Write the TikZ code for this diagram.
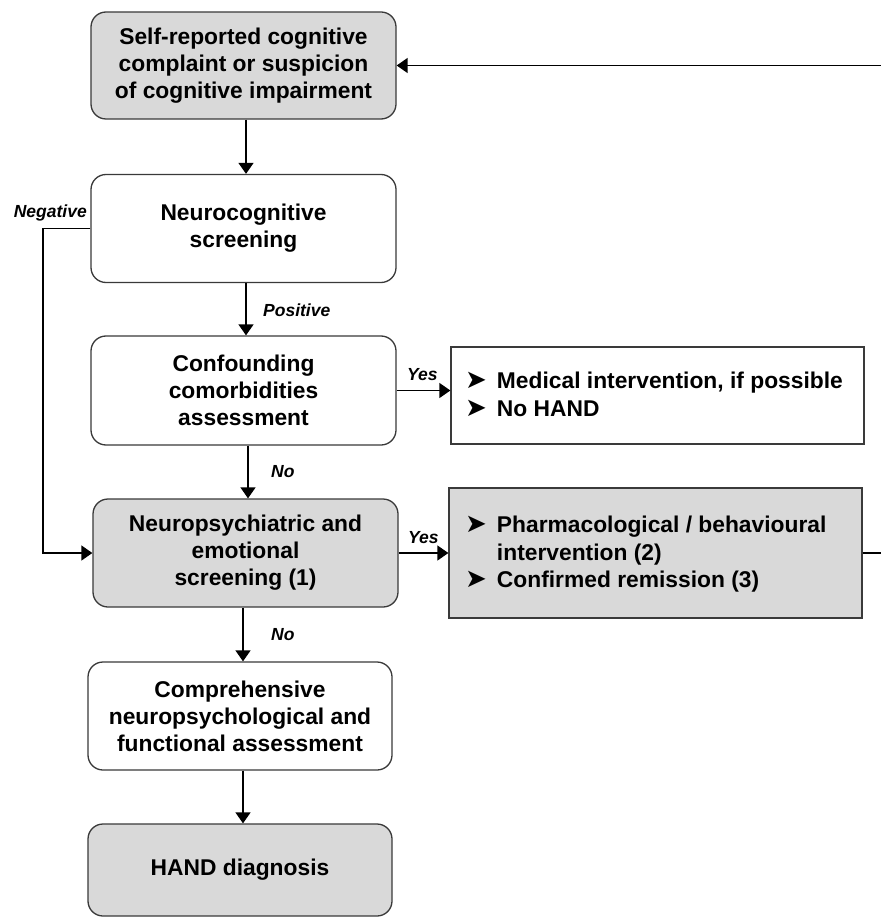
\documentclass[tikz,border=0pt]{standalone}
\usepackage{fontspec}
\setmainfont{Liberation Sans}
\newfontfamily\symfont{DejaVu Sans}
\usetikzlibrary{arrows.meta}
\definecolor{boxgray}{HTML}{D9D9D9}
\definecolor{edgegray}{HTML}{3A3A3A}
\newcommand{\bul}{{\symfont\fontsize{26}{26}\selectfont ➤}}
\tikzset{
  flowbox/.style={draw=edgegray, line width=1.3pt, rounded corners=15pt, align=center,
    inner sep=0pt, font=\bfseries\fontsize{22.8}{27}\selectfont},
  graybox/.style={flowbox, fill=boxgray},
  whitebox/.style={flowbox, fill=white},
  sqbox/.style={draw=edgegray, line width=1.3pt, inner sep=0pt},
  conn/.style={line width=1.4pt, draw=black, -{Triangle[length=11pt,width=15pt]}},
  lbl/.style={font=\bfseries\itshape\fontsize{17.5}{20}\selectfont, inner sep=0pt},
  listtext/.style={font=\bfseries\fontsize{22.8}{27.5}\selectfont, inner sep=0pt, anchor=west}
}
\begin{document}
\begin{tikzpicture}[x=1pt,y=-1pt]
\useasboundingbox[fill=white] (0,0) rectangle (880,917);

% main column
\node[graybox, minimum width=305pt, minimum height=107pt] (n1) at (243.5,65.5)
  {Self-reported cognitive\\complaint or suspicion\\of cognitive impairment};
\node[whitebox, minimum width=305pt, minimum height=108pt] (n2) at (243.5,228.5)
  {Neurocognitive\\screening};
\node[whitebox, minimum width=305pt, minimum height=109pt] (n3) at (243.5,390.5)
  {Confounding\\comorbidities\\assessment};
\node[graybox, minimum width=305pt, minimum height=108pt] (n4) at (245.5,553)
  {Neuropsychiatric and\\emotional\\screening (1)};
\node[whitebox, minimum width=304pt, minimum height=108pt] (n5) at (240,716)
  {Comprehensive\\neuropsychological and\\functional assessment};
\node[graybox, minimum width=304pt, minimum height=92pt] (n6) at (240,870)
  {HAND diagnosis};

% right boxes
\node[sqbox, fill=white, minimum width=413pt, minimum height=97pt] (ra) at (657.5,395.5) {};
\node[sqbox, fill=boxgray, minimum width=413pt, minimum height=130pt] (rb) at (655.5,553) {};

\node[listtext] (ratext) at (465,397) {%
  \begin{tabular}{@{}l@{\hspace{10pt}}l@{}}
  \bul & Medical intervention, if possible\\
  \bul & No HAND
  \end{tabular}};
\node[listtext] (rbtext) at (465,554.5) {%
  \begin{tabular}{@{}l@{\hspace{10pt}}l@{}}
  \bul & Pharmacological / behavioural\\
       & intervention (2)\\
  \bul & Confirmed remission (3)
  \end{tabular}};

% connectors
\draw[conn] (n1.south -| 246,0) -- (n2.north -| 246,0);
\draw[conn] (n2.south -| 246,0) -- (n3.north -| 246,0);
\draw[conn] (n3.south -| 248,0) -- (n4.north -| 248,0);
\draw[conn] (n4.south -| 243,0) -- (n5.north -| 243,0);
\draw[conn] (n5.south -| 243,0) -- (n6.north -| 243,0);
\draw[conn] (n3.east) -- (n3.east -| ra.west);
\draw[conn] (n4.east) -- (n4.east -| rb.west);
\draw[conn] (n2.west) -- (43,228.5) |- (n4.west);
\draw[conn] (rb.east) -- (895,553) |- (n1.east);

% labels
\node[lbl, anchor=east] (lneg) at (87,213) {Negative};
\node[lbl, anchor=west] (lpos) at (263,310) {Positive};
\node[lbl, anchor=west] (lno1) at (271,472) {No};
\node[lbl, anchor=west] (lno2) at (271,635) {No};
\node[lbl, anchor=west] (lyes1) at (407,375) {Yes};
\node[lbl, anchor=west] (lyes2) at (408,538) {Yes};
\end{tikzpicture}
\end{document}
